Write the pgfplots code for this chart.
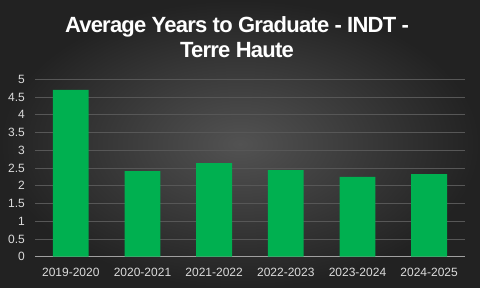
\documentclass[border=0pt]{standalone}
\usepackage{fontspec}
\setmainfont{Liberation Sans}
\newfontfamily\titlefont[LetterSpace=-3.5]{Liberation Sans}
\usepackage{pgfplots}
\pgfplotsset{compat=1.18}
\definecolor{bargreen}{HTML}{00B050}
\definecolor{gridc}{HTML}{575757}
\definecolor{tickc}{HTML}{DCDCDC}
\definecolor{axc}{HTML}{A0A0A0}
\begin{document}
\begin{tikzpicture}
\shade[inner color={rgb,255:red,82;green,82;blue,82}, outer color={rgb,255:red,34;green,34;blue,34}] (0,0) rectangle (480pt,288pt);
\useasboundingbox (0,0) rectangle (480pt,288pt);
\node[text=white, anchor=base, inner sep=0pt, font=\titlefont\bfseries\fontsize{22}{25}\selectfont] at (237pt,255pt) {Average Years to Graduate - INDT -};
\node[text=white, anchor=base, inner sep=0pt, font=\titlefont\bfseries\fontsize{22}{25}\selectfont] at (237pt,230pt) {Terre Haute};
\begin{axis}[
  at={(35pt,31.3pt)}, anchor=south west,
  scale only axis, width=430pt, height=177.4pt,
  xmin=-0.5, xmax=5.5, ymin=0, ymax=5,
  ybar, bar width=0.5,
  axis x line*=bottom, axis y line*=left,
  y axis line style={draw=none},
  x axis line style={draw=axc, line width=1.2pt},
  major tick length=0pt,
  xtick=data,
  xticklabels={2019-2020,2020-2021,2021-2022,2022-2023,2023-2024,2024-2025},
  ytick={0,0.5,1,1.5,2,2.5,3,3.5,4,4.5,5},
  yticklabels={0,0.5,1,1.5,2,2.5,3,3.5,4,4.5,5},
  ymajorgrids, grid style={draw=gridc, line width=0.8pt},
  ticklabel style={text=tickc, font=\fontsize{12}{14}\selectfont, inner sep=0pt},
  yticklabel style={anchor=east, xshift=-10pt},
  xticklabel style={anchor=north, yshift=-10.8pt},
  clip=false,
]
\addplot[fill=bargreen, draw=none] coordinates {(0,4.70) (1,2.41) (2,2.64) (3,2.44) (4,2.25) (5,2.33)};
\end{axis}
\end{tikzpicture}
\end{document}
